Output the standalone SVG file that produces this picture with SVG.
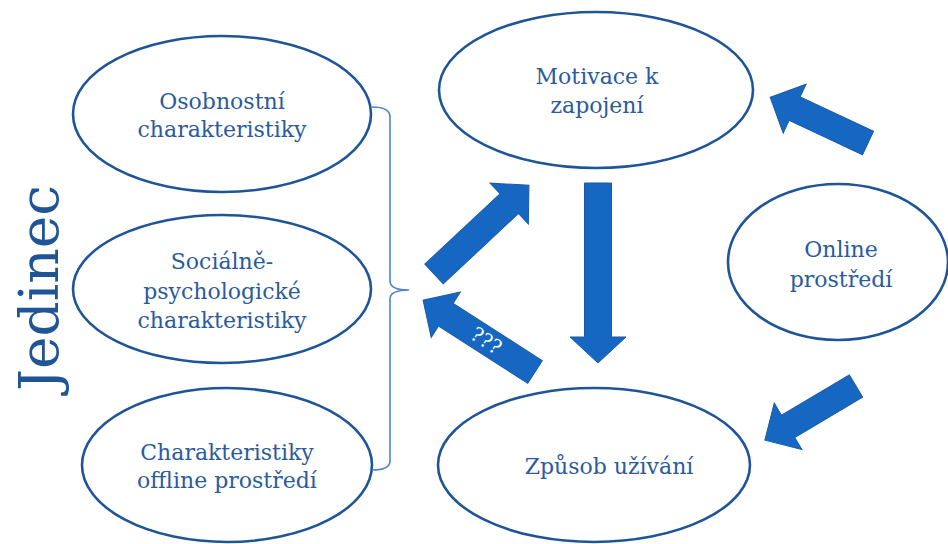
<svg xmlns="http://www.w3.org/2000/svg" width="948" height="544" viewBox="0 0 948 544">
<defs>
<style>
.node ellipse{fill:#fff;stroke:#1F5597;stroke-width:2.6}
.lbl{font-family:"DejaVu Serif","Liberation Serif",serif;font-size:22px;fill:#2A5B9E;text-anchor:middle}
.arr{fill:#1667C2;stroke:#1B5AA5;stroke-width:1}
.brace{fill:none;stroke:#4A86C8;stroke-width:1.6}
</style>
</defs>
<rect width="948" height="544" fill="#fff"/>
<text transform="translate(58,288) rotate(-90)" style="font-family:'DejaVu Serif','Liberation Serif',serif;font-size:55px;fill:#1F5597;text-anchor:middle">Jedinec</text>
<g id="n-osobnostni" class="node">
<ellipse cx="222" cy="114" rx="149" ry="78"/>
<text class="lbl" x="222" y="109">Osobnostní</text>
<text class="lbl" x="222" y="137">charakteristiky</text>
</g>
<g id="n-socialne" class="node">
<ellipse cx="222" cy="289" rx="149" ry="74"/>
<text class="lbl" x="222" y="269">Sociálně-</text>
<text class="lbl" x="222" y="299">psychologické</text>
<text class="lbl" x="222" y="328">charakteristiky</text>
</g>
<g id="n-offline" class="node">
<ellipse cx="227" cy="465" rx="145" ry="77"/>
<text class="lbl" x="227" y="460">Charakteristiky</text>
<text class="lbl" x="227" y="488">offline prostředí</text>
</g>
<g id="n-motivace" class="node">
<ellipse cx="596" cy="90" rx="157" ry="78"/>
<text class="lbl" x="597" y="84">Motivace k</text>
<text class="lbl" x="597" y="113">zapojení</text>
</g>
<g id="n-zpusob" class="node">
<ellipse cx="594" cy="465" rx="156" ry="77"/>
<text class="lbl" x="609" y="474">Způsob užívání</text>
</g>
<g id="n-online" class="node">
<ellipse cx="838" cy="262" rx="110" ry="78"/>
<text class="lbl" x="841" y="257">Online</text>
<text class="lbl" x="841" y="287">prostředí</text>
</g>
<g id="connectors">
<path class="brace" d="M372,107 Q390,107 390,117 L390,281 Q390,290 409,290 Q390,290 390,299 L390,461 Q390,470 372,470"/>
<polygon class="arr" transform="translate(434,274) rotate(-43.1)" points="0,-13.5 103,-13.5 103,-28 130,0 103,28 103,13.5 0,13.5"/>
<g transform="translate(535,372) rotate(-147.3)">
<polygon class="arr" points="0,-13.5 106,-13.5 106,-27 133,0 106,27 106,13.5 0,13.5"/>
<text transform="translate(58,0) rotate(180)" y="7" style="font-family:'DejaVu Serif','Liberation Serif',serif;font-size:20px;fill:#fff;text-anchor:middle">???</text>
</g>
<polygon class="arr" transform="translate(598,183) rotate(90)" points="0,-13.5 154,-13.5 154,-28 180,0 154,28 154,13.5 0,13.5"/>
<polygon class="arr" transform="translate(868,143) rotate(-154.9)" points="0,-13 81,-13 81,-27 108,0 81,27 81,13 0,13"/>
<polygon class="arr" transform="translate(856,386) rotate(149.3)" points="0,-13 79,-13 79,-27 106,0 79,27 79,13 0,13"/>
</g>
</svg>
